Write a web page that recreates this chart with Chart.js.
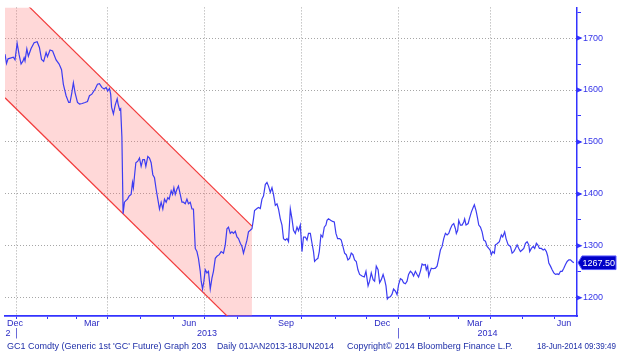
<!DOCTYPE html>
<html>
<head>
<meta charset="utf-8">
<script src="https://cdn.jsdelivr.net/npm/chart.js@4.4.1/dist/chart.umd.min.js"></script>
<style>
  html, body { margin: 0; padding: 0; background: #fff; }
  canvas { display: block; }
</style>
</head>
<body>
<canvas id="gc1Chart" width="620" height="354"></canvas>
<script>
// GC1 Comdty daily close, x = trading day counted from 1 Jan 2013
const tradeDay = [
  -7.3, -6.3, -5.3, -1.8, -0.7, 0.7, 2.0, 3.3, 4.6, 5.3, 5.9, 7.1, 8.1, 9.9, 11.9, 13.9, 15.4, 16.8, 18.2, 19.8,
  20.7, 22.4, 24.1, 26.4, 28.4, 30.0, 31.2, 33.0, 34.7, 35.6, 36.8, 37.8, 38.9, 40.5, 41.9, 43.6, 45.5, 47.1, 48.4, 50.0,
  52.2, 53.7, 55.0, 56.6, 58.1, 59.4, 60.4, 61.6, 62.4, 63.0, 64.2, 65.4, 66.7, 67.3, 68.3, 69.0, 69.8, 70.6, 71.5, 72.4,
  73.5, 74.6, 75.9, 76.8, 77.4, 78.1, 79.0, 80.3, 81.4, 82.5, 83.6, 84.7, 85.6, 86.9, 88.0, 89.1, 90.2, 91.3, 92.4, 93.5,
  94.6, 95.7, 96.8, 97.9, 99.0, 100.1, 101.0, 102.3, 103.2, 104.1, 105.0, 106.1, 107.1, 108.3, 109.4, 110.4, 111.6, 112.7, 113.7, 114.9,
  116.0, 117.0, 118.2, 119.3, 120.3, 121.5, 122.1, 123.0, 123.9, 124.8, 125.9, 126.9, 128.1, 129.2, 130.2, 131.4, 132.5, 134.0, 135.3, 136.8,
  138.0, 139.1, 140.1, 141.3, 142.4, 143.4, 144.6, 145.7, 146.7, 147.9, 149.0, 150.0, 151.2, 152.3, 153.3, 154.5, 155.6, 156.6, 157.3, 158.9,
  159.9, 161.1, 162.2, 163.2, 164.4, 165.5, 166.5, 167.7, 168.8, 169.8, 171.0, 172.1, 173.1, 174.3, 175.4, 176.4, 177.6, 178.7, 179.7, 180.9,
  182.0, 183.0, 184.2, 185.3, 186.3, 187.5, 188.6, 189.6, 190.8, 191.9, 192.9, 194.1, 195.2, 196.2, 196.9, 197.8, 199.1, 200.0, 201.1, 202.2,
  203.3, 204.4, 205.1, 206.1, 207.7, 208.8, 209.9, 211.0, 212.1, 213.4, 214.5, 215.6, 216.7, 217.8, 218.9, 220.0, 221.1, 222.2, 223.3, 224.4,
  225.5, 226.6, 228.2, 229.7, 230.8, 232.2, 233.2, 234.3, 235.5, 236.5, 237.6, 238.8, 239.8, 240.9, 242.1, 243.1, 244.0, 244.9, 245.7, 246.9,
  248.0, 249.0, 250.2, 251.3, 252.3, 253.5, 254.6, 255.6, 256.8, 257.9, 258.9, 260.1, 261.2, 262.2, 263.4, 264.5, 265.5, 266.7, 267.8, 268.8,
  270.0, 270.6, 271.5, 272.2, 273.1, 273.9, 275.1, 276.6, 277.7, 278.8, 279.9, 281.0, 282.1, 283.2, 284.3, 285.4, 286.5, 287.6, 288.7, 289.8,
  290.4, 291.3, 292.0, 293.1, 294.2, 295.3, 295.9, 296.8, 298.2, 299.0, 300.3, 301.5, 302.3, 303.4, 304.3, 305.2, 306.3, 307.4, 308.5, 309.6,
  310.7, 311.8, 312.7, 313.5, 314.4, 315.5, 316.2, 317.3, 318.8, 320.1, 321.0, 322.3, 323.2, 324.6, 326.1, 327.2, 328.3, 329.4, 330.5, 331.6,
  332.7, 333.8, 334.9, 336.0, 337.1, 338.2, 338.8, 339.9, 341.1, 342.1, 343.2, 344.1, 345.2, 346.5, 347.7, 348.7, 349.8, 350.7, 351.4, 352.5,
  353.6, 354.7, 355.8, 356.9, 358.0, 359.1, 360.2, 361.3, 362.4, 363.5, 364.6, 365.7, 366.8, 367.9
];
const gc1Close = [
  1669, 1651, 1660, 1663, 1658, 1690, 1668, 1650, 1656, 1662, 1656, 1679, 1665, 1680, 1691, 1693, 1682, 1659, 1655, 1672,
  1664, 1677, 1675, 1658, 1650, 1639, 1611, 1589, 1576, 1576, 1595, 1614, 1595, 1576, 1573, 1574, 1576, 1578, 1589, 1592,
  1602, 1611, 1612, 1605, 1602, 1605, 1598, 1603, 1592, 1567, 1554, 1571, 1583, 1573, 1562, 1564, 1510, 1362, 1384, 1387,
  1390, 1396, 1399, 1422, 1412, 1434, 1460, 1463, 1469, 1453, 1466, 1466, 1453, 1472, 1469, 1460, 1437, 1431, 1409, 1390,
  1371, 1384, 1371, 1390, 1384, 1393, 1390, 1406, 1399, 1412, 1399, 1409, 1415, 1399, 1384, 1384, 1381, 1390, 1381, 1384,
  1371, 1371, 1295, 1289, 1276, 1251, 1232, 1217, 1232, 1254, 1248, 1251, 1217, 1238, 1251, 1276, 1280, 1283, 1289, 1286,
  1302, 1333, 1336, 1324, 1327, 1324, 1328, 1317, 1314, 1305, 1299, 1286, 1299, 1311, 1327, 1330, 1333, 1352, 1368, 1372,
  1374, 1372, 1390, 1396, 1418, 1422, 1415, 1403, 1412, 1399, 1378, 1381, 1371, 1352, 1340, 1314, 1311, 1314, 1308, 1371,
  1352, 1330, 1324, 1336, 1329, 1340, 1289, 1317, 1317, 1311, 1324, 1324, 1305, 1289, 1270, 1273, 1276, 1289, 1321, 1317,
  1336, 1340, 1349, 1352, 1349, 1347, 1346, 1324, 1314, 1314, 1311, 1299, 1286, 1283, 1273, 1276, 1286, 1283, 1273, 1270,
  1254, 1245, 1242, 1240, 1251, 1223, 1232, 1248, 1235, 1232, 1261, 1254, 1229, 1235, 1245, 1235, 1223, 1198, 1201, 1202,
  1207, 1217, 1213, 1206, 1225, 1237, 1235, 1229, 1227, 1232, 1245, 1251, 1248, 1242, 1251, 1245, 1240, 1251, 1265, 1263,
  1264, 1254, 1261, 1242, 1251, 1257, 1256, 1257, 1261, 1276, 1292, 1299, 1314, 1324, 1321, 1324, 1333, 1340, 1343, 1333,
  1324, 1330, 1349, 1340, 1340, 1346, 1352, 1340, 1343, 1352, 1365, 1374, 1379, 1368, 1355, 1340, 1336, 1327, 1311, 1309,
  1299, 1295, 1292, 1283, 1289, 1286, 1302, 1304, 1308, 1321, 1317, 1327, 1314, 1302, 1299, 1286, 1289, 1295, 1302, 1295,
  1289, 1292, 1295, 1305, 1308, 1302, 1289, 1295, 1299, 1295, 1305, 1302, 1295, 1295, 1292, 1294, 1289, 1280, 1267, 1261,
  1254, 1248, 1245, 1246, 1245, 1251, 1251, 1257, 1264, 1270, 1273, 1273, 1270, 1267.5
];

// downtrend channel drawn on the chart
const channelDays = [-7.3, 155.6];
const channelUpper = [1806, 1338];
const channelLower = [1585, 1118];

// axes
const monthStarts = [0, 21, 40, 60, 82, 104, 124, 146, 168, 188, 211, 231, 252, 273, 292, 313, 334, 355];
const quarterStarts = [0, 60, 124, 188, 252, 313];
const monthLabels = ['Dec', 'Mar', 'Jun', 'Sep', 'Dec', 'Mar', 'Jun'];
const monthLabelDays = [-0.7, 50, 114, 178, 241.5, 302.5, 361.5];
const yearLabels = ['2012', '2013', '2014'];
const yearLabelDays = [-7.3, 126, 311];
const yearStarts = [0, 252];
const yMajor = [1200, 1300, 1400, 1500, 1600, 1700];
const yMinor = [1250, 1350, 1450, 1550, 1650, 1750];
const footerParts = [
  "GC1 Comdty (Generic 1st 'GC' Future) Graph 203",
  'Daily 01JAN2013-18JUN2014',
  'Copyright\u00a9 2014 Bloomberg Finance L.P.',
  '18-Jun-2014 09:39:49'
];

const BLUE = '#3333ff';
const LABEL = '#2b2bc4';
const FONT = '9px "Liberation Sans", Arial, sans-serif';

// month / year labels, footer, tick arrows and last price flag
const bloombergDecor = {
  id: 'bloombergDecor',
  afterDraw(chart) {
    const ctx = chart.ctx;
    const x = chart.scales.x;
    const y = chart.scales.y;
    const area = chart.chartArea;
    ctx.save();
    ctx.font = FONT;
    ctx.fillStyle = LABEL;
    ctx.textBaseline = 'middle';

    ctx.textAlign = 'center';
    monthLabels.forEach((m, i) => {
      ctx.fillText(m, x.getPixelForValue(monthLabelDays[i]), 323.5);
    });

    yearLabels.forEach((yr, i) => {
      if (i === 0) {
        // only the tail end of 2012 is visible, label gets cut
        ctx.save();
        ctx.beginPath();
        ctx.rect(0, 326, 10.5, 14);
        ctx.clip();
        ctx.textAlign = 'left';
        ctx.fillText(yr, 5.5, 334);
        ctx.restore();
      } else {
        ctx.fillText(yr, x.getPixelForValue(yearLabelDays[i]), 334);
      }
    });

    ctx.strokeStyle = '#6a6ad8';
    ctx.lineWidth = 1;
    yearStarts.forEach(d => {
      const px = Math.round(x.getPixelForValue(d)) + 0.5;
      ctx.beginPath();
      ctx.moveTo(px, 328);
      ctx.lineTo(px, 338.5);
      ctx.stroke();
    });

    // footer
    ctx.textAlign = 'left';
    ctx.fillStyle = '#1f2fa8';
    const fx = [7, 217, 347, 537];
    const fw = [202, 117, 173, 79];
    footerParts.forEach((t, i) => ctx.fillText(t, fx[i], 346.5, fw[i]));

    // arrow markers on major y ticks
    ctx.fillStyle = BLUE;
    yMajor.forEach(v => {
      const py = y.getPixelForValue(v);
      ctx.beginPath();
      ctx.moveTo(area.right, py - 2.5);
      ctx.lineTo(area.right + 5.5, py);
      ctx.lineTo(area.right, py + 2.5);
      ctx.closePath();
      ctx.fill();
    });

    // last price flag
    const last = gc1Close[gc1Close.length - 1];
    const ly = y.getPixelForValue(last);
    ctx.fillStyle = '#0000c8';
    ctx.strokeStyle = '#5a5aff';
    ctx.beginPath();
    ctx.moveTo(area.right + 1, ly);
    ctx.lineTo(area.right + 5, ly - 6.8);
    ctx.lineTo(616, ly - 6.8);
    ctx.lineTo(616, ly + 6.8);
    ctx.lineTo(area.right + 5, ly + 6.8);
    ctx.closePath();
    ctx.fill();
    ctx.stroke();
    ctx.fillStyle = '#ffffff';
    ctx.fillText(last.toFixed(2), 582.5, ly + 0.5);
    ctx.restore();
  }
};

const ctx = document.getElementById('gc1Chart').getContext('2d');
new Chart(ctx, {
  type: 'line',
  data: {
    datasets: [
      {
        label: 'GC1 Comdty',
        data: tradeDay.map((d, i) => ({ x: d, y: gc1Close[i] })),
        borderColor: '#3c3cf2',
        borderWidth: 1.2,
        pointRadius: 0,
        tension: 0,
        fill: false
      },
      {
        label: 'channel top',
        data: channelDays.map((d, i) => ({ x: d, y: channelUpper[i] })),
        borderColor: '#f23c3c',
        borderWidth: 1.2,
        pointRadius: 0,
        fill: false
      },
      {
        label: 'channel bottom',
        data: channelDays.map((d, i) => ({ x: d, y: channelLower[i] })),
        borderColor: '#f23c3c',
        borderWidth: 1.2,
        pointRadius: 0,
        fill: '-1',
        backgroundColor: 'rgba(255, 110, 110, 0.27)'
      }
    ]
  },
  options: {
    responsive: false,
    animation: false,
    devicePixelRatio: 1,
    layout: { padding: { left: 5, top: 2, right: 0, bottom: 0 } },
    plugins: {
      legend: { display: false },
      tooltip: { enabled: false }
    },
    scales: {
      x: {
        type: 'linear',
        min: -7.3,
        max: 370,
        afterBuildTicks: s => { s.ticks = monthStarts.map(v => ({ value: v })); },
        afterFit: s => { s.height = 38; },
        ticks: { display: false, autoSkip: false },
        grid: {
          color: c => (c.tick && quarterStarts.includes(c.tick.value)) ? '#a6a6a6' : 'rgba(0,0,0,0)',
          tickColor: BLUE,
          tickLength: 3,
          lineWidth: 1
        },
        border: { color: BLUE, width: 1.8, dash: [1, 2] }
      },
      y: {
        position: 'right',
        min: 1165,
        max: 1759,
        afterBuildTicks: s => {
          s.ticks = yMajor.concat(yMinor).sort((a, b) => a - b).map(v => ({ value: v }));
        },
        afterFit: s => { s.width = 43; },
        ticks: {
          autoSkip: false,
          padding: 2,
          color: '#3535e8',
          font: { family: '"Liberation Sans", Arial, sans-serif', size: 9 },
          callback: v => yMajor.includes(v) ? String(v) : ''
        },
        grid: {
          color: c => (c.tick && yMajor.includes(c.tick.value)) ? '#a6a6a6' : 'rgba(0,0,0,0)',
          tickColor: BLUE,
          tickLength: 4,
          lineWidth: 1
        },
        border: { color: BLUE, width: 1.5, dash: [1, 2] }
      }
    }
  },
  plugins: [bloombergDecor]
});
</script>
</body>
</html>
